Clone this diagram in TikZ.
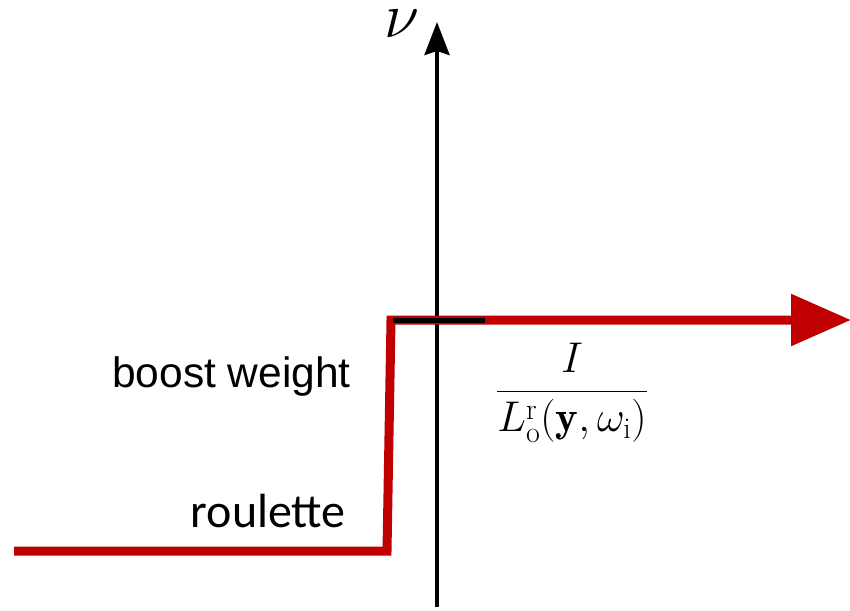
\documentclass[tikz,border=0pt]{standalone}
\usepackage{fix-cm}
\usepackage{amsmath}
\usepackage{fontspec}
\newfontfamily\arialfont{Liberation Sans}
\newfontfamily\calibrifont{Carlito}
\usetikzlibrary{arrows.meta}
\definecolor{stepred}{RGB}{192,0,0}

\begin{document}
\begin{tikzpicture}[x=1pt, y=-1pt, >=Stealth]
    \useasboundingbox (0,0) rectangle (850,610);

    % Vertical axis
    \coordinate (axisbot) at (437,607);
    \coordinate (axistop) at (437,22);
    \draw[line width=4pt, -{Stealth[length=33pt, width=25pt, inset=4pt]}] (axisbot) -- (axistop);
    \node[font=\fontsize{64}{70}\selectfont] (nu) at (402,24) {$\nu$};

    % Red step curve
    \coordinate (lowstart) at (14,551);
    \coordinate (lowend) at (387,551);
    \coordinate (highstart) at (391,320);
    \coordinate (arrowtip) at (851,320);
    \draw[stepred, line width=9pt, line join=miter,
          -{Triangle[length=60pt, width=50pt]}]
        (lowstart) -- (lowend) -- (highstart) -- (arrowtip);

    % Short black level mark
    \coordinate (markleft) at (393,320);
    \coordinate (markright) at (485,320);
    \draw[line width=5pt] (markleft) -- (markright);

    % Labels
    \node[font=\arialfont\fontsize{42.5}{50}\selectfont, inner sep=0pt, anchor=base east]
        (boost) at (351,387) {boost weight};
    \node[font=\calibrifont\fontsize{48}{56}\selectfont, inner sep=0pt, anchor=base east]
        (roulette) at (346,527) {roulette};
    \node[font=\fontsize{43}{50}\selectfont] (ratio) at (572,393)
        {$\dfrac{I}{L_{\mathrm{o}}^{\mathrm{r}}(\mathbf{y},\omega_{\mathrm{i}})}$};
\end{tikzpicture}
\end{document}
